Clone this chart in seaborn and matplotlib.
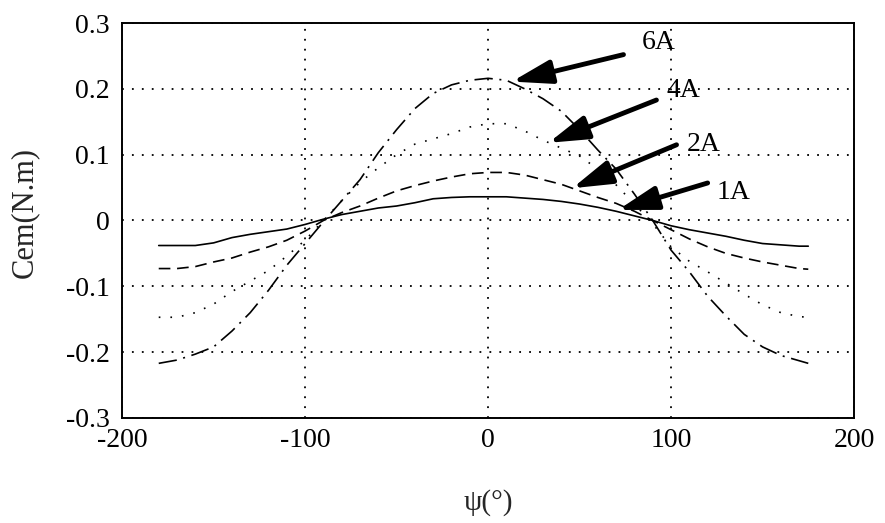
import matplotlib
matplotlib.use("Agg")
import matplotlib.pyplot as plt
import seaborn as sns
import pandas as pd

# ---- data ----
psi = [-180, -170, -160, -150, -140, -130, -120, -110, -100, -90, -80, -70, -60, -50,
       -40, -30, -20, -10, 0, 10, 20, 30, 40, 50, 60, 70, 80, 90, 100, 110, 120, 130,
       140, 150, 160, 170, 175]
cem_1A = [-0.038, -0.038, -0.038, -0.034, -0.026, -0.021, -0.017, -0.013, -0.006, 0.002,
          0.009, 0.014, 0.019, 0.022, 0.027, 0.033, 0.035, 0.036, 0.036, 0.036, 0.034,
          0.032, 0.029, 0.025, 0.020, 0.014, 0.007, 0.000, -0.008, -0.014, -0.019,
          -0.024, -0.030, -0.035, -0.037, -0.039, -0.039]
cem_2A = [-0.073, -0.073, -0.070, -0.063, -0.057, -0.048, -0.040, -0.030, -0.016, 0.000,
          0.012, 0.022, 0.034, 0.045, 0.053, 0.060, 0.066, 0.071, 0.073, 0.073, 0.069,
          0.062, 0.055, 0.045, 0.035, 0.026, 0.014, 0.000, -0.014, -0.028, -0.040,
          -0.050, -0.057, -0.063, -0.068, -0.073, -0.074]
cem_4A = [-0.147, -0.147, -0.140, -0.127, -0.108, -0.092, -0.076, -0.054, -0.030, 0.000,
          0.030, 0.058, 0.080, 0.100, 0.116, 0.124, 0.132, 0.142, 0.147, 0.147, 0.136,
          0.122, 0.110, 0.098, 0.078, 0.054, 0.025, -0.005, -0.040, -0.062, -0.078,
          -0.095, -0.112, -0.128, -0.140, -0.146, -0.147]
cem_6A = [-0.217, -0.212, -0.203, -0.192, -0.168, -0.140, -0.106, -0.068, -0.035, -0.002,
          0.030, 0.062, 0.103, 0.138, 0.170, 0.193, 0.206, 0.213, 0.216, 0.213, 0.200,
          0.185, 0.166, 0.138, 0.107, 0.078, 0.040, 0.000, -0.045, -0.078, -0.115,
          -0.145, -0.173, -0.192, -0.205, -0.213, -0.217]
series_names = ["1A", "2A", "4A", "6A"]
xticks = [-200, -100, 0, 100, 200]
xticklabels = ["-200", "-100", "0", "100", "200"]
yticks = [-0.3, -0.2, -0.1, 0, 0.1, 0.2, 0.3]
yticklabels = ["-0.3", "-0.2", "-0.1", "0", "0.1", "0.2", "0.3"]
# annotation: (label pos), (arrow tail), (arrow head)
ann_text = {"6A": (93, 0.270), "4A": (107, 0.198), "2A": (118, 0.115), "1A": (134, 0.043)}
ann_tail = {"6A": (74, 0.252), "4A": (92, 0.183), "2A": (103, 0.115), "1A": (120, 0.057)}
ann_head = {"6A": (13, 0.211), "4A": (33, 0.118), "2A": (46, 0.049), "1A": (71, 0.016)}

df = pd.DataFrame({
    "psi": psi * 4,
    "cem": cem_1A + cem_2A + cem_4A + cem_6A,
    "I": sum([[n] * len(psi) for n in series_names], []),
})

sns.set_style("white")
plt.rcParams["font.family"] = ["Liberation Serif", "DejaVu Serif"]

fig = plt.figure(figsize=(8.85, 5.23), dpi=100)
ax = fig.add_axes([0.138, 0.2008, 0.827, 0.7552])

styles = {
    "1A": "-",
    "2A": (0, (7, 4)),
    "4A": (0, (1, 6)),
    "6A": (0, (11, 4, 1.2, 4)),
}
for n in series_names:
    sub = df[df["I"] == n]
    sns.lineplot(data=sub, x="psi", y="cem", ax=ax, color="black", lw=1.2,
                 linestyle=styles[n], legend=False, estimator=None)

ax.set_xlim(-200, 200)
ax.set_ylim(-0.3, 0.3)
ax.set_xticks(xticks)
ax.set_xticklabels(xticklabels)
ax.set_yticks(yticks)
ax.set_yticklabels(yticklabels)
ax.tick_params(length=0, labelsize=20, colors="black")
ax.tick_params(axis="y", pad=9)
ax.tick_params(axis="x", pad=7)
ax.grid(True, color="black", linestyle=(0, (1, 4.5)), lw=1.3)
for s in ax.spines.values():
    s.set_color("black")
    s.set_linewidth(1.4)

ax.set_xlabel("ψ(°)", fontsize=21)
ax.set_ylabel("Cem(N.m)", fontsize=22)
ax.xaxis.label.set_va("center")
ax.yaxis.label.set_va("center")
ax.xaxis.set_label_coords(0.5, -0.215)
ax.yaxis.set_label_coords(-0.134, 0.52)

for n in series_names:
    ax.annotate("", xy=ann_head[n], xytext=ann_tail[n],
                arrowprops=dict(arrowstyle="-|>,head_length=2.0,head_width=0.6",
                                lw=3.5, color="black", mutation_scale=12,
                                shrinkA=0, shrinkB=0))
    ax.text(ann_text[n][0], ann_text[n][1], n, fontsize=20, ha="center",
            va="center", color="black")

fig.savefig("out.png", dpi=100)
